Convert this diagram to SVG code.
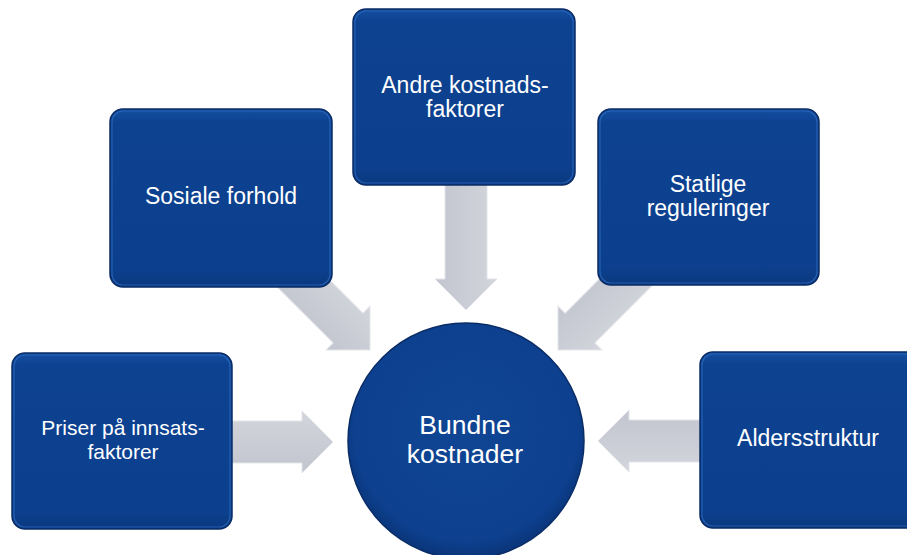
<svg xmlns="http://www.w3.org/2000/svg" width="907" height="555" viewBox="0 0 907 555">
  <defs>
    <linearGradient id="boxGrad" x1="0" y1="0" x2="0" y2="1">
      <stop offset="0" stop-color="#1550a2"/>
      <stop offset="0.07" stop-color="#0d4291"/>
      <stop offset="0.9" stop-color="#0c408e"/>
      <stop offset="1" stop-color="#0a387e"/>
    </linearGradient>
    <radialGradient id="circGrad" cx="0.5" cy="0.45" r="0.55">
      <stop offset="0" stop-color="#0f4593"/>
      <stop offset="0.85" stop-color="#0d4190"/>
      <stop offset="1" stop-color="#0a3478"/>
    </radialGradient>
    <linearGradient id="arrGrad" x1="0" y1="0" x2="0" y2="1">
      <stop offset="0" stop-color="#d3d5dc"/>
      <stop offset="1" stop-color="#c2c5cf"/>
    </linearGradient>
  </defs>
  <style>
    .box { fill: url(#boxGrad); stroke: #0a2c66; stroke-width: 1.5; }
    .rim { fill: none; stroke: #2f6cc0; stroke-width: 1.2; opacity: 0.7; }
    .circ { fill: url(#circGrad); stroke: #0a2c66; stroke-width: 1.5; }
    .arrow { fill: url(#arrGrad); stroke: #e4e5ea; stroke-width: 1; }
    .lbl { font-family: "Liberation Sans", Arial, sans-serif; font-size: 23px; fill: #ffffff; text-anchor: middle; }
    .sm { font-size: 21px; }
    .big { font-size: 26.5px; }
  </style>
  <rect width="907" height="555" fill="#ffffff"/>

  <g id="connectors">
    <polygon class="arrow" transform="translate(466,310) rotate(90)" points="-135,-21 -31,-21 -31,-31 0,0 -31,31 -31,21 -135,21"/>
    <polygon class="arrow" transform="translate(333,442)" points="-110,-21 -31,-21 -31,-31 0,0 -31,31 -31,21 -110,21"/>
    <polygon class="arrow" transform="translate(598,441) rotate(180)" points="-110,-21 -31,-21 -31,-31 0,0 -31,31 -31,21 -110,21"/>
    <polygon class="arrow" transform="translate(370,350) rotate(45)" points="-130,-21 -31,-21 -31,-31 0,0 -31,31 -31,21 -130,21"/>
    <polygon class="arrow" transform="translate(558,350) rotate(135)" points="-130,-21 -31,-21 -31,-31 0,0 -31,31 -31,21 -130,21"/>
  </g>

  <g id="andre">
    <rect class="box" x="353" y="9" width="222" height="176" rx="13"/>
    <rect class="rim" x="355" y="11" width="218" height="172" rx="11"/>
    <text class="lbl" x="465" y="93">Andre kostnads-</text>
    <text class="lbl" x="465" y="117">faktorer</text>
  </g>

  <g id="sosiale">
    <rect class="box" x="110" y="109" width="222" height="178" rx="13"/>
    <rect class="rim" x="112" y="111" width="218" height="174" rx="11"/>
    <text class="lbl" x="221" y="204">Sosiale forhold</text>
  </g>

  <g id="statlige">
    <rect class="box" x="598" y="109" width="221" height="176" rx="13"/>
    <rect class="rim" x="600" y="111" width="217" height="172" rx="11"/>
    <text class="lbl" x="708" y="192">Statlige</text>
    <text class="lbl" x="708" y="216">reguleringer</text>
  </g>

  <g id="priser">
    <rect class="box" x="12" y="353" width="220" height="176" rx="13"/>
    <rect class="rim" x="14" y="355" width="216" height="172" rx="11"/>
    <text class="lbl sm" x="123" y="435">Priser på innsats-</text>
    <text class="lbl sm" x="123" y="459">faktorer</text>
  </g>

  <g id="alder">
    <rect class="box" x="700" y="352" width="222" height="176" rx="13"/>
    <rect class="rim" x="702" y="354" width="218" height="172" rx="11"/>
    <text class="lbl" x="808" y="446">Aldersstruktur</text>
  </g>

  <g id="bundne">
    <circle class="circ" cx="466" cy="441" r="118"/>
    <text class="lbl big" x="465" y="434">Bundne</text>
    <text class="lbl big" x="465" y="463">kostnader</text>
  </g>
</svg>
